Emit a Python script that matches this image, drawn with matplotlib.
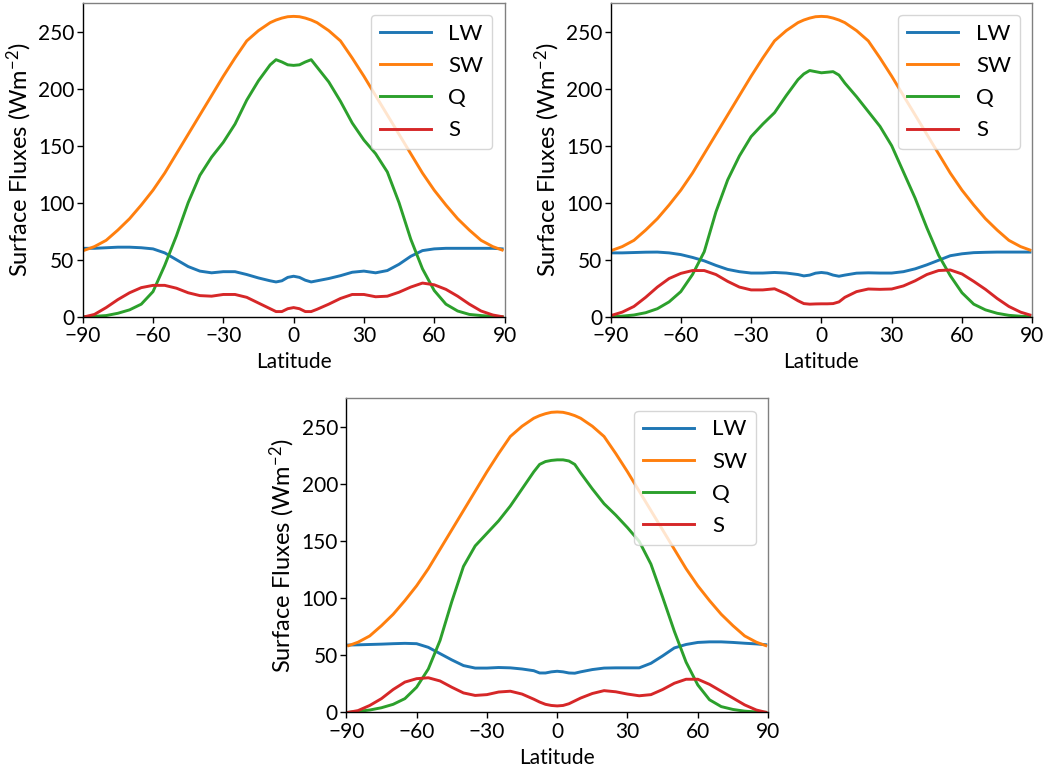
import matplotlib
matplotlib.use("Agg")
import matplotlib.pyplot as plt

plt.rcParams['font.family'] = ['Lato', 'DejaVu Sans']
plt.rcParams['mathtext.fontset'] = 'custom'
plt.rcParams['mathtext.rm'] = 'Lato'
plt.rcParams['mathtext.it'] = 'Lato:italic'
plt.rcParams['mathtext.bf'] = 'Lato:bold'

# ---------------- data ----------------
lat = [-89, -85, -80, -75, -70, -65, -60, -55, -50, -45, -40, -35, -30, -25, -20,
       -15, -10, -7.5, -5, -2.5, 0, 2.5, 5, 7.5, 10, 15, 20, 25, 30, 35, 40, 45,
       50, 55, 60, 65, 70, 75, 80, 85, 89]

sw = [58.5, 61.5, 67, 76, 86, 98, 111, 126, 143, 160, 177, 194, 211, 227, 242,
      251, 258, 260.3, 262, 263.2, 263.5, 263.2, 262, 260.3, 258, 251, 242, 227,
      211, 194, 177, 160, 143, 126, 111, 98, 86, 76, 67, 61.5, 58.5]

# panel A (top left)
lw_a = [60, 60, 60.5, 61, 61, 60.5, 59.5, 56, 50, 44, 40, 38.5, 39.5, 39.5, 37,
        34, 31.5, 30.5, 31.5, 34.5, 35.5, 34.5, 32, 30.5, 31.5, 33.5, 36, 39, 40,
        38.5, 40.5, 46, 53, 58, 59.5, 60, 60, 60, 60, 60, 59.5]
q_a = [0, 0.3, 1, 3, 6, 11, 22, 45, 71, 100, 124, 140, 153, 169, 190,
       207, 221, 225.5, 223.5, 221, 220.5, 221, 223.5, 225.5, 219, 206, 189, 170,
       155, 143, 127, 100, 68, 42, 23, 11, 5, 2, 1, 0.3, 0]
s_a = [0, 2, 8, 15, 21, 25.5, 27.5, 27.5, 25, 21, 18.5, 18, 19.5, 19.5, 17,
       12, 7, 4.5, 4.5, 7, 8, 7, 4.5, 4.5, 6.5, 11, 16, 19.5, 19.5, 17.5, 18,
       21.5, 26, 29.5, 28, 24, 18, 11, 5, 1.5, 0]

# panel B (top right)
lw_b = [56, 56, 56.3, 56.6, 56.7, 56, 54.5, 52, 49, 45, 41.5, 39.5, 38.3, 38.3,
        38.8, 38.3, 37, 35.8, 36.5, 38.2, 38.8, 38.2, 36.5, 35.5, 36.5, 38.2,
        38.5, 38.3, 38.3, 39.5, 42, 45.5, 49.5, 53.5, 55.2, 56.2, 56.5, 56.7,
        56.7, 56.7, 56.7]
q_b = [0, 0.5, 1.5, 3.5, 7, 13, 22, 37, 57, 92, 120, 141, 158, 169, 179,
       194, 208, 213, 216, 215, 214, 214.5, 215, 212, 205, 193, 180, 167, 150,
       127, 104, 78, 54, 36, 21, 11, 6, 3, 1.2, 0.4, 0]
s_b = [1.5, 4, 9, 17, 26, 33.5, 38, 40.5, 40.5, 37, 31, 26, 23.5, 23.5, 24.5,
       20, 14, 11.5, 11, 11.2, 11.3, 11.3, 11.5, 13, 17, 22, 24.3, 24, 24.3, 27,
       31.5, 37, 40.5, 41, 37.5, 31, 24, 16, 9, 4, 1.5]

# panel C (bottom)
lw_c = [59, 59.2, 59.5, 59.8, 60.2, 60.5, 60.2, 57, 51.5, 46, 41, 38.8, 38.8,
        39.3, 39, 38, 36.5, 34.5, 34.5, 35.5, 36, 35.5, 34.5, 34.3, 35.5, 37.5,
        38.8, 39, 39, 39, 43, 49.5, 56.5, 59.5, 61.3, 61.8, 61.8, 61.3, 60.6,
        60, 59.3]
q_c = [0, 0.8, 2, 4, 7, 12, 22, 38, 63, 97, 128, 146, 157, 168, 181,
       196, 211, 217.5, 220, 221, 221.5, 221.5, 220.5, 217.5, 210, 196, 183, 173,
       162, 150, 130, 101, 71, 44, 24, 11, 5, 2.5, 1, 0.3, 0]
s_c = [0, 1.5, 6, 12, 20, 26.5, 29.5, 30.3, 27.5, 22, 17, 14.8, 15.5, 17.8,
       18.5, 16, 11.5, 9, 7, 6, 5.6, 6, 7.5, 10, 12.5, 16.5, 19, 18, 16, 14.5,
       15.5, 20, 25.5, 29, 29, 24.5, 18.5, 12.5, 6.5, 2, 0]

labels = ['LW', 'SW', 'Q', 'S']
colors = ['#1f77b4', '#ff7f0e', '#2ca02c', '#d62728']
xticks = [-90, -60, -30, 0, 30, 60, 90]
yticks = [0, 50, 100, 150, 200, 250]

panels = [
    ([82.7, 2.7], [lw_a, sw, q_a, s_a]),
    ([610.5, 2.7], [lw_b, sw, q_b, s_b]),
    ([346.3, 398.3], [lw_c, sw, q_c, s_c]),
]

W, H = 1056, 772
fig = plt.figure(figsize=(W / 100, H / 100), dpi=100)
aw, ah = 421.8, 314.0
FS = 15

for (x0, y0), series in panels:
    ax = fig.add_axes([x0 / W, (H - y0 - ah) / H, aw / W, ah / H])
    for vals, lab, col in zip(series, labels, colors):
        ax.plot(lat, vals, color=col, lw=2.1, label=lab)
    ax.set_xlim(-90, 90)
    ax.set_ylim(0, 275.5)
    ax.set_xticks(xticks)
    ax.set_yticks(yticks)
    ax.tick_params(labelsize=FS, width=1.0, length=4, color='black')
    ax.tick_params(axis='x', pad=3)
    ax.tick_params(axis='y', pad=2)
    ax.set_xlabel('Latitude', fontsize=FS, labelpad=4)
    ax.set_ylabel('Surface Fluxes (Wm$^{-2}$)', fontsize=17, labelpad=3)
    for side in ['left', 'bottom']:
        ax.spines[side].set_color('black')
        ax.spines[side].set_linewidth(1.0)
    for side in ['top', 'right']:
        ax.spines[side].set_color('#808080')
        ax.spines[side].set_linewidth(1.0)
    ax.legend(loc='upper right', fontsize=16, handlelength=2.3,
              handletextpad=0.8, borderaxespad=0.55, labelspacing=0.55)

fig.savefig('out.png', dpi=100)
